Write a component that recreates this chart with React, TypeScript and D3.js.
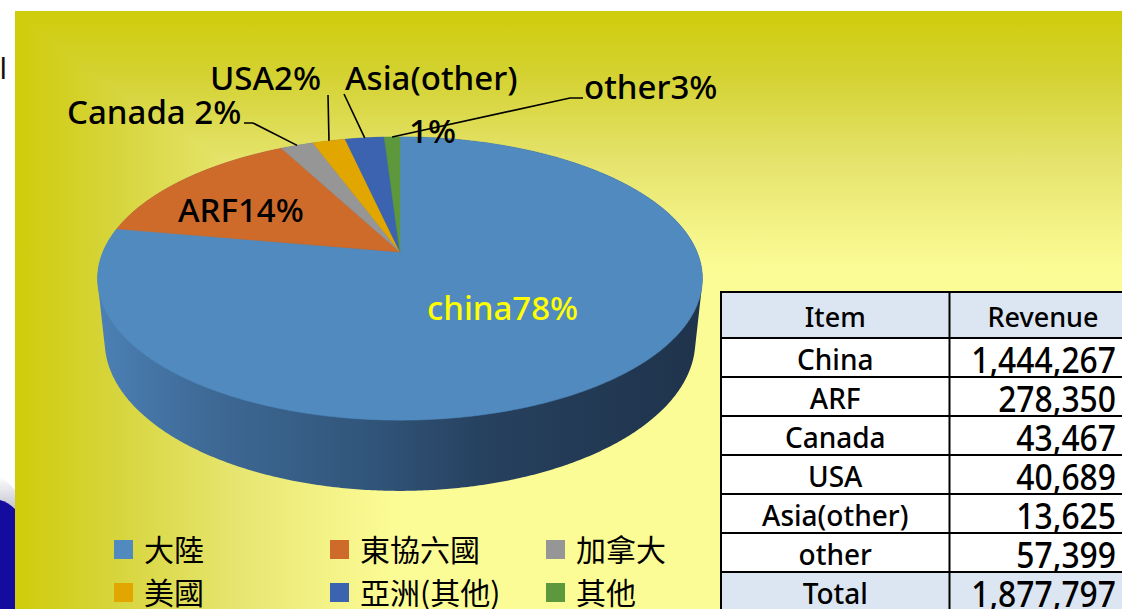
import React from "react";
import * as d3 from "d3";

const W = 1122;
const H = 609;

// Pie (as drawn in the picture), clockwise from 12 o'clock
const sliceNames = ["China", "ARF", "Canada", "USA", "Asia(other)", "other"];
const sliceShares = [77.8, 14.5, 2.1, 2.1, 2.5, 1.0];
const sliceColors = ["#508abe", "#cf6b2a", "#969696", "#e2a600", "#3b63b0", "#5e983c"];

// Legend
const legendLabels = ["大陸", "東協六國", "加拿大", "美國", "亞洲(其他)", "其他"];

// Table
const tableItems = ["China", "ARF", "Canada", "USA", "Asia(other)", "other"];
const tableRevenue = [1444267, 278350, 43467, 40689, 13625, 57399];
const tableTotal = 1877797;

// Data labels on the pie
const pieLabels = [
  { text: "china78%", x: 427, y: 320, color: "#ffff00" },
  { text: "ARF14%", x: 178, y: 222, color: "#000" },
  { text: "Canada 2%", x: 67, y: 124, color: "#000" },
  { text: "USA2%", x: 210, y: 90, color: "#000" },
  { text: "Asia(other)", x: 345, y: 90, color: "#000" },
  { text: "1%", x: 409, y: 143, color: "#000" },
  { text: "other3%", x: 584, y: 99, color: "#000" },
];
// leader lines: slice index + label-side polyline points
const leaders = [
  { slice: 2, pts: [[244, 123], [253, 123]] },
  { slice: 3, pts: [[328, 95]] },
  { slice: 4, pts: [[344, 94]] },
  { slice: 5, pts: [[583, 98], [570, 98]] },
];

// 3D camera
const CX = 400, CY = 252;
const SIN = 0.46, COS = Math.sqrt(1 - SIN * SIN);
const DIST = 4.74, FOC = 1408, DEPTH = 0.239;

function project(x: number, y: number, z: number): [number, number] {
  const ry = y - DIST * SIN;
  const rz = z - DIST * COS;
  const depth = -ry * SIN - rz * COS;
  const v = ry * COS - rz * SIN;
  return [CX + (FOC * x) / depth, CY - (FOC * v) / depth];
}
function rim(a: number, y = 0, r = 1): [number, number] {
  return project(r * Math.sin(a), y, -r * Math.cos(a));
}

export default function App() {
  const pie = d3.pie<number>().sort(null).value((d) => d).startAngle(0).endAngle(2 * Math.PI);
  const arcs = pie(sliceShares);

  const line = d3.line();

  const slicePaths = arcs.map((a) => {
    const n = Math.max(4, Math.ceil(((a.endAngle - a.startAngle) * 180) / Math.PI / 0.5));
    const pts: [number, number][] = [project(0, 0, 0)];
    for (let i = 0; i <= n; i++) {
      const t = a.startAngle + ((a.endAngle - a.startAngle) * i) / n;
      pts.push(rim(t));
    }
    return line(pts) + "Z";
  });

  const hullPts: [number, number][] = [];
  for (let i = 0; i < 720; i++) {
    const t = (i / 720) * 2 * Math.PI;
    hullPts.push(rim(t, 0));
    hullPts.push(rim(t, -DEPTH));
  }
  const hull = d3.polygonHull(hullPts)!;
  const sidePath = line(hull) + "Z";

  const fmt = d3.format(",");

  // table layout
  const tX0 = 721, tX1 = 949.5, tX2 = 1140;
  const tY0 = 292, headH = 46, rowH = 39;
  const rowY = (i: number) => tY0 + headH + i * rowH; // top of data row i
  const nRows = tableItems.length + 1;

  const lfont = "'Noto Sans', 'Open Sans', sans-serif";
  const cjk = "'Noto Sans CJK TC', 'Noto Sans CJK SC', sans-serif";

  return (
    <div style={{ position: "fixed", left: 0, top: 0, width: W, height: H, background: "#fff" }}>
      <svg width={W} height={H} viewBox={`0 0 ${W} ${H}`} style={{ display: "block" }}>
        <defs>
          <linearGradient id="bgV" gradientUnits="userSpaceOnUse" x1="0" y1="11" x2="0" y2="268">
            <stop offset="0" stopColor="#cfcc0a" />
            <stop offset="0.25" stopColor="#d4d232" />
            <stop offset="0.6" stopColor="#e6e46e" />
            <stop offset="1" stopColor="#fcfc96" />
          </linearGradient>
          <linearGradient id="bgH" gradientUnits="userSpaceOnUse" x1="15" y1="0" x2="395" y2="0">
            <stop offset="0" stopColor="#cfcc0a" />
            <stop offset="0.25" stopColor="#d6d43a" />
            <stop offset="0.6" stopColor="#e8e672" />
            <stop offset="1" stopColor="#fcfc96" />
          </linearGradient>
          <linearGradient id="sideG" gradientUnits="userSpaceOnUse" x1="97" y1="0" x2="702" y2="0">
            <stop offset="0" stopColor="#4c80b6" />
            <stop offset="0.18" stopColor="#3e6a96" />
            <stop offset="0.45" stopColor="#31557a" />
            <stop offset="0.65" stopColor="#26405e" />
            <stop offset="1" stopColor="#1f334b" />
          </linearGradient>
          <linearGradient id="shadowG" x1="0" y1="0" x2="0" y2="1">
            <stop offset="0" stopColor="#ffffff" />
            <stop offset="1" stopColor="#c4c4d0" />
          </linearGradient>
        </defs>

        {/* left strip decorations */}
        <text x={-0.5} y={79} fontFamily={lfont} fontSize={29} fill="#111">l</text>
        <path d="M0,476 Q8,482 15,490 L15,509 Q8,502 0,500 Z" fill="url(#shadowG)" />
        <path d="M0,500 Q8,502 15,509 L15,609 L0,609 Z" fill="#140c9e" />

        {/* panel background */}
        <g style={{ isolation: "isolate" }}>
          <rect x={15} y={11} width={W - 15} height={H - 11} fill="url(#bgV)" />
          <rect x={15} y={11} width={W - 15} height={H - 11} fill="url(#bgH)" style={{ mixBlendMode: "darken" }} />
        </g>

        {/* 3D pie */}
        <path d={sidePath} fill="url(#sideG)" />
        {slicePaths.map((d, i) => (
          <path key={sliceNames[i]} d={d} fill={sliceColors[i]} stroke={sliceColors[i]} strokeWidth={0.6} />
        ))}

        {/* leader lines */}
        {leaders.map((l, i) => {
          const a = arcs[l.slice];
          const end = rim((a.startAngle + a.endAngle) / 2);
          const pts = [...l.pts, end] as [number, number][];
          return <path key={i} d={line(pts)!} fill="none" stroke="#000" strokeWidth={1.6} />;
        })}

        {/* pie labels */}
        {pieLabels.map((l) => (
          <text key={l.text} x={l.x} y={l.y} fill={l.color} fontFamily={lfont} fontSize={33} fontWeight={500}>
            {l.text}
          </text>
        ))}

        {/* legend */}
        {legendLabels.map((lab, i) => {
          const col = i % 3;
          const row = Math.floor(i / 3);
          const x = [114, 330, 546][col];
          const y = [540, 583][row];
          return (
            <g key={lab}>
              <rect x={x} y={y} width={19} height={19} fill={sliceColors[i]} />
              <text x={x + 30} y={y + 21} fontFamily={cjk} fontSize={30} fill="#000">{lab}</text>
            </g>
          );
        })}

        {/* table */}
        <g>
          <rect x={tX0} y={tY0} width={tX2 - tX0} height={headH} fill="#dce6f2" />
          {tableItems.map((_, i) => (
            <rect key={i} x={tX0} y={rowY(i)} width={tX2 - tX0} height={rowH} fill="#ffffff" />
          ))}
          <rect x={tX0} y={rowY(tableItems.length)} width={tX2 - tX0} height={rowH} fill="#dce6f2" />
          {/* horizontal rules */}
          {[tY0, ...d3.range(nRows + 1).map((i) => rowY(i))].map((y, i) => (
            <line key={"h" + i} x1={tX0 - 1} x2={tX2} y1={y} y2={y} stroke="#000" strokeWidth={2} />
          ))}
          <line x1={tX0} x2={tX0} y1={tY0} y2={H + 5} stroke="#000" strokeWidth={2} />
          <line x1={tX1} x2={tX1} y1={tY0} y2={H + 5} stroke="#000" strokeWidth={2} />

          <text x={(tX0 + tX1) / 2} y={tY0 + headH - 11} textAnchor="middle" fontFamily={lfont} fontSize={27} fontWeight={500}>Item</text>
          <text x={1043} y={tY0 + headH - 11} textAnchor="middle" fontFamily={lfont} fontSize={27} fontWeight={500}>Revenue</text>
          {tableItems.map((it, i) => (
            <g key={it}>
              <text x={(tX0 + tX1) / 2} y={rowY(i) + rowH - 7} textAnchor="middle" fontFamily={lfont} fontSize={28} fontWeight={500}>{it}</text>
              <text transform={`translate(1116,${rowY(i) + rowH - 4}) scale(0.86,1)`} textAnchor="end" fontFamily={lfont} fontSize={37} fontWeight={500}>
                {fmt(tableRevenue[i])}
              </text>
            </g>
          ))}
          <text x={(tX0 + tX1) / 2} y={rowY(tableItems.length) + rowH - 7} textAnchor="middle" fontFamily={lfont} fontSize={28} fontWeight={500}>Total</text>
          <text transform={`translate(1116,${rowY(tableItems.length) + rowH - 4}) scale(0.86,1)`} textAnchor="end" fontFamily={lfont} fontSize={37} fontWeight={500}>
            {fmt(tableTotal)}
          </text>
        </g>
      </svg>
    </div>
  );
}
